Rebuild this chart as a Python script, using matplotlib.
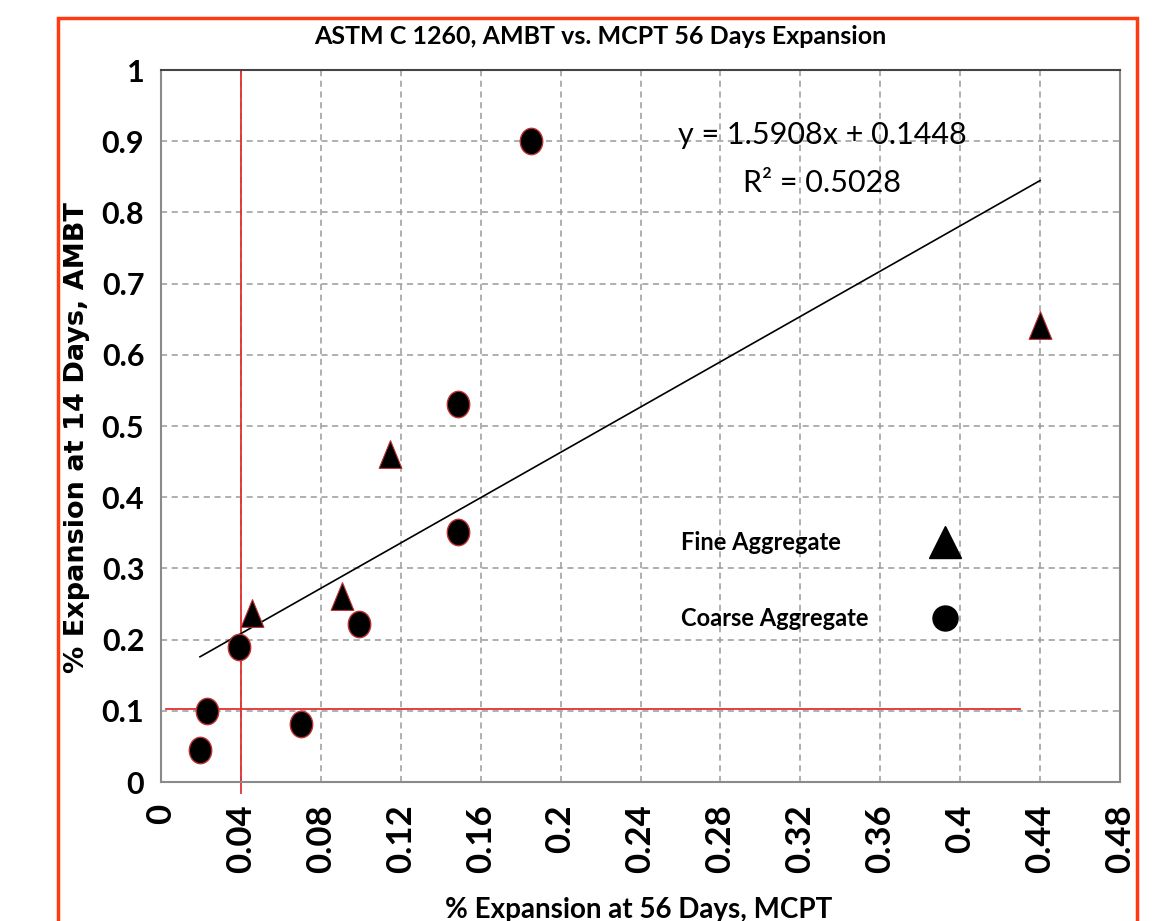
import matplotlib
matplotlib.use('Agg')
import matplotlib.pyplot as plt
from matplotlib.patches import Rectangle
from matplotlib.path import Path
import numpy as np

CAL = ['Lato', 'DejaVu Sans']   # substituto mais próximo do Calibri

# Valores
fine_x = [0.0455, 0.0905, 0.1145, 0.44]
fine_y = [0.237, 0.261, 0.46, 0.642]
coarse_x = [0.0195, 0.023, 0.039, 0.070, 0.099, 0.1485, 0.1485, 0.185]
coarse_y = [0.045, 0.100, 0.190, 0.081, 0.222, 0.351, 0.531, 0.900]
slope, intercept, r2 = 1.5908, 0.1448, 0.5028
limit_x = 0.04       # limite MCPT
limit_y = 0.10       # limite AMBT
x_ticks = [0, 0.04, 0.08, 0.12, 0.16, 0.2, 0.24, 0.28, 0.32, 0.36, 0.4, 0.44, 0.48]
x_tick_labels = ['0', '0.04', '0.08', '0.12', '0.16', '0.2', '0.24', '0.28',
                 '0.32', '0.36', '0.4', '0.44', '0.48']
y_ticks = [0, 0.1, 0.2, 0.3, 0.4, 0.5, 0.6, 0.7, 0.8, 0.9, 1]
y_tick_labels = ['0', '0.1', '0.2', '0.3', '0.4', '0.5', '0.6', '0.7', '0.8', '0.9', '1']
series_names = ['Fine Aggregate', 'Coarse Aggregate']

# marcadores um pouco mais altos que largos, como no original
_c = Path.unit_circle()
ELLIPSE = Path(_c.vertices * [0.85, 1.0], _c.codes)
TRI = Path([(0, 1), (-0.82, -1), (0.82, -1), (0, 1)],
           [Path.MOVETO, Path.LINETO, Path.LINETO, Path.CLOSEPOLY])

fig = plt.figure(figsize=(11.74, 9.21), dpi=100)
ax = fig.add_axes([161 / 1174, 1 - 782 / 921, (1120 - 161) / 1174, (782 - 70) / 921])

ax.set_xlim(0, 0.48)
ax.set_ylim(0, 1)
ax.set_xticks(x_ticks)
ax.set_xticklabels(x_tick_labels, rotation=90, fontsize=25, fontweight='bold', family=CAL)
ax.set_yticks(y_ticks)
ax.set_yticklabels(y_tick_labels, fontsize=22, fontweight='bold', family=CAL)
ax.tick_params(length=0, pad=12)
ax.tick_params(axis='x', pad=16)
ax.grid(True, color='#9a9a9a', ls=(0, (4, 3)), lw=1.1)
ax.set_axisbelow(True)
for side in ('left', 'bottom', 'right'):
    ax.spines[side].set_color('#8a8a8a')
    ax.spines[side].set_linewidth(1.5)
ax.spines['top'].set_color('#444444')
ax.spines['top'].set_linewidth(1.5)

# linhas de limite
ax.plot([limit_x, limit_x], [-0.015, 1], color='#e03030', lw=1.3, clip_on=False, zorder=2)
ax.plot([0.0025, 0.43], [limit_y + 0.003, limit_y + 0.003], color='#e03030', lw=1.3, zorder=2)

# linha de tendência
all_x = np.array(fine_x + coarse_x)
tx = np.array([all_x.min(), all_x.max()])
ax.plot(tx, slope * tx + intercept, color='black', lw=1.2, zorder=3)

ax.plot(coarse_x, coarse_y, marker=ELLIPSE, ms=19, mfc='black', mec='#c03030', mew=1.0,
        ls='none', zorder=4)
ax.plot(fine_x, fine_y, marker=TRI, ms=20, mfc='black', mec='#c03030', mew=0.8,
        ls='none', zorder=4)

# legenda manual: texto à esquerda, marcador à direita
for (yy, lab, mk, ms) in [(0.337, series_names[0], '^', 23), (0.23, series_names[1], 'o', 18)]:
    ax.text(0.542, yy, lab, transform=ax.transAxes, fontsize=17, fontweight='bold',
            family=CAL, ha='left', va='center')
    ax.plot([0.817], [yy], marker=mk, ms=ms, color='black', transform=ax.transAxes,
            ls='none', zorder=5)

# equação
ax.text(0.331, 0.909, f'y = {slope}x + {intercept}', fontsize=22, family=CAL,
        ha='center', va='center', zorder=5)
ax.text(0.331, 0.841, f'R² = {r2}', fontsize=22, family=CAL,
        ha='center', va='center', zorder=5)

fig.text(600 / 1174, 1 - 37 / 921, 'ASTM C 1260, AMBT vs. MCPT 56 Days Expansion',
         ha='center', va='center', fontsize=18, fontweight='bold', family=CAL)
fig.text(639 / 1174, 1 - 910 / 921, '% Expansion at 56 Days, MCPT',
         ha='center', va='center', fontsize=20, fontweight='bold', family=CAL)
fig.text(77 / 1174, 1 - 438 / 921, '% Expansion at 14 Days, AMBT', rotation=90,
         ha='center', va='center', fontsize=19.5, fontweight='bold')

# moldura laranja
fig.patches.append(Rectangle((58 / 1174, -0.05), (1137 - 58) / 1174, 1.05 - 18 / 921,
                             transform=fig.transFigure, fill=False,
                             edgecolor='#ff3a10', lw=2.5))

fig.savefig('out.png', dpi=100, facecolor='white')
